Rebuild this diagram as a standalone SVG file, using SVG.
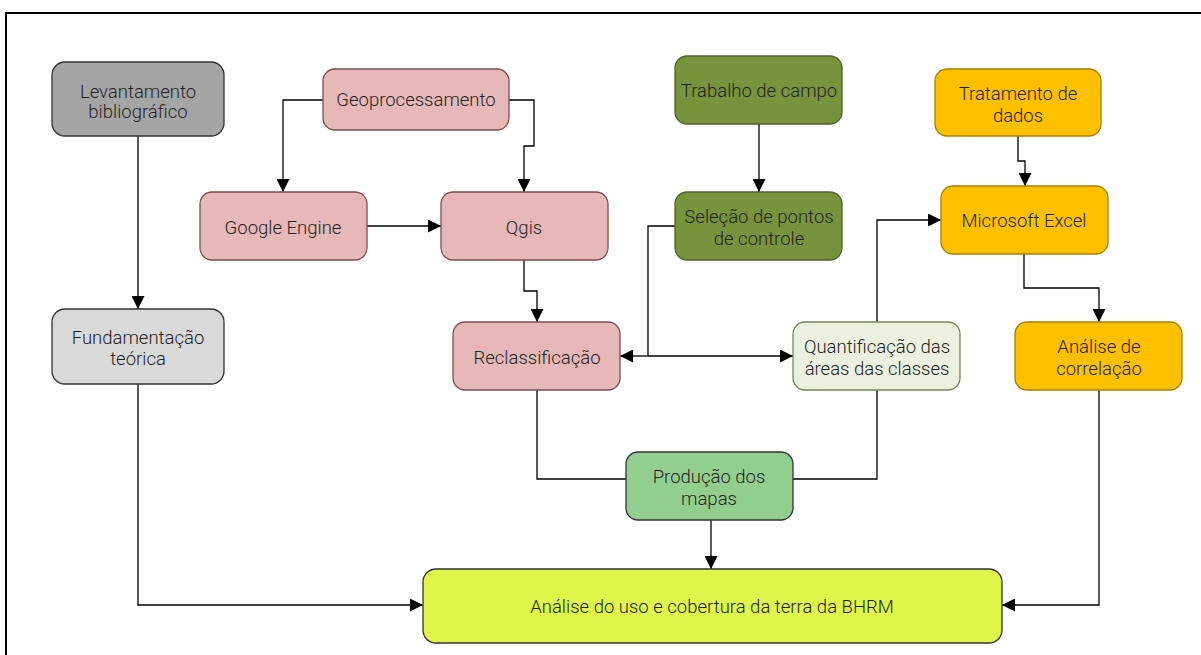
<svg xmlns="http://www.w3.org/2000/svg" width="1201" height="655" viewBox="0 0 1201 655">
<defs>
<marker id="arr" markerWidth="13" markerHeight="13" refX="13" refY="6.5" orient="auto" markerUnits="userSpaceOnUse">
<path d="M0,0 L13,6.5 L0,13 Z" fill="#000"/>
</marker>
<style>
.n{stroke-width:1.3}
.t{font-family:Roboto,"Liberation Sans",sans-serif;font-weight:300;font-size:18.5px;fill:#1f1f1f;text-anchor:middle;dominant-baseline:central}
.c{fill:none;stroke:#000;stroke-width:1.3}
.gray{fill:#a5a5a5;stroke:#333}
.lgray{fill:#d9d9d9;stroke:#333}
.pink{fill:#e6b8b7;stroke:#7f4f4f}
.olive{fill:#77933c;stroke:#4f6228}
.gold{fill:#ffc000;stroke:#a88000}
.pale{fill:#ebf1de;stroke:#76895a}
.green{fill:#92cf8f;stroke:#333}
.lime{fill:#e0f54a;stroke:#333}
</style>
</defs>
<rect x="0" y="0" width="1201" height="655" fill="#fff"/>
<rect x="6" y="13" width="1210" height="660" fill="none" stroke="#000" stroke-width="2"/>

<g id="connectors">
<path class="c" d="M138,136 V309" marker-end="url(#arr)"/>
<path class="c" d="M138,384 V605 H423" marker-end="url(#arr)"/>
<path class="c" d="M323,100 H283 V192" marker-end="url(#arr)"/>
<path class="c" d="M509,100 H534 V146 H524 V192" marker-end="url(#arr)"/>
<path class="c" d="M367,226 H441" marker-end="url(#arr)"/>
<path class="c" d="M524,260 V291 H537 V322" marker-end="url(#arr)"/>
<path class="c" d="M675,226 H648 V356"/>
<path class="c" d="M648,356 H620" marker-end="url(#arr)"/>
<path class="c" d="M648,356 H793" marker-end="url(#arr)"/>
<path class="c" d="M877,322 V220 H941" marker-end="url(#arr)"/>
<path class="c" d="M759,124 V192" marker-end="url(#arr)"/>
<path class="c" d="M1018,136 V161 H1025 V186" marker-end="url(#arr)"/>
<path class="c" d="M1024,254 V288 H1099 V322" marker-end="url(#arr)"/>
<path class="c" d="M1099,390 V605 H1002" marker-end="url(#arr)"/>
<path class="c" d="M537,390 V479 H626"/>
<path class="c" d="M877,390 V479 H793"/>
<path class="c" d="M711,520 V569" marker-end="url(#arr)"/>
</g>

<g id="levantamento"><rect class="n gray" x="52" y="62" width="172" height="74" rx="13"/><text class="t" x="138" y="92">Levantamento</text><text class="t" x="138" y="112">bibliográfico</text></g>
<g id="fundamentacao"><rect class="n lgray" x="52" y="309" width="172" height="75" rx="13"/><text class="t" x="138" y="338">Fundamentação</text><text class="t" x="138" y="359">teórica</text></g>
<g id="geoprocessamento"><rect class="n pink" x="323" y="69" width="186" height="61" rx="12"/><text class="t" x="416" y="100">Geoprocessamento</text></g>
<g id="google"><rect class="n pink" x="200" y="192" width="167" height="68" rx="12"/><text class="t" x="283" y="228">Google Engine</text></g>
<g id="qgis"><rect class="n pink" x="441" y="192" width="167" height="68" rx="12"/><text class="t" x="524" y="228">Qgis</text></g>
<g id="reclassificacao"><rect class="n pink" x="453" y="322" width="167" height="68" rx="12"/><text class="t" x="537" y="358">Reclassificação</text></g>
<g id="trabalho"><rect class="n olive" x="675" y="56" width="167" height="68" rx="12"/><text class="t" x="759" y="91">Trabalho de campo</text></g>
<g id="selecao"><rect class="n olive" x="675" y="192" width="167" height="68" rx="12"/><text class="t" x="759" y="217">Seleção de pontos</text><text class="t" x="759" y="239">de controle</text></g>
<g id="quantificacao"><rect class="n pale" x="793" y="322" width="167" height="68" rx="12"/><text class="t" x="877" y="347">Quantificação das</text><text class="t" x="877" y="369">áreas das classes</text></g>
<g id="tratamento"><rect class="n gold" x="935" y="69" width="166" height="67" rx="12"/><text class="t" x="1018" y="94">Tratamento de</text><text class="t" x="1018" y="116">dados</text></g>
<g id="excel"><rect class="n gold" x="941" y="186" width="167" height="68" rx="12"/><text class="t" x="1024" y="221">Microsoft Excel</text></g>
<g id="correlacao"><rect class="n gold" x="1015" y="322" width="167" height="68" rx="12"/><text class="t" x="1099" y="347">Análise de</text><text class="t" x="1099" y="369">correlação</text></g>
<g id="producao"><rect class="n green" x="626" y="452" width="167" height="68" rx="12"/><text class="t" x="709" y="477">Produção dos</text><text class="t" x="709" y="499">mapas</text></g>
<g id="analise"><rect class="n lime" x="423" y="569" width="579" height="74" rx="13"/><text class="t" x="712" y="607">Análise do uso e cobertura da terra da BHRM</text></g>
</svg>
